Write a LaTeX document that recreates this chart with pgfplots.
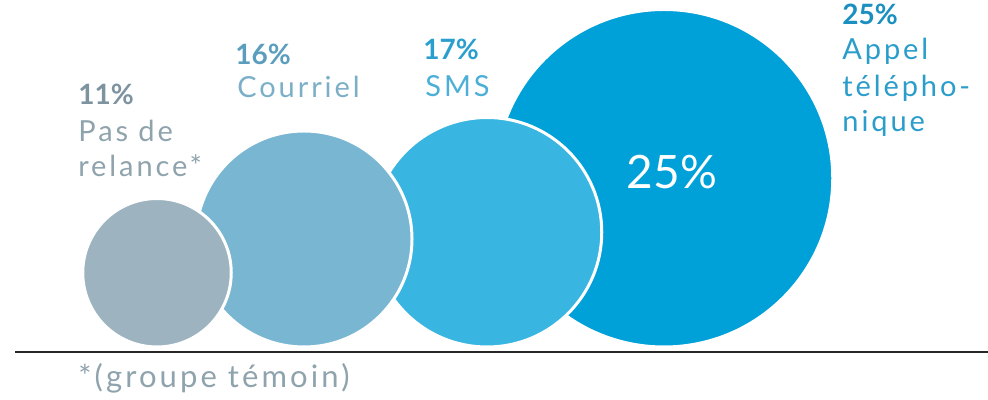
\documentclass[border=0pt]{standalone}
\usepackage{pgfplots}
\pgfplotsset{compat=1.18}
\usepackage{pgfplotstable}
\usepackage{fontspec}
\setmainfont{Lato}
\newfontfamily\labfont[LetterSpace=10]{Lato}
\definecolor{cG}{HTML}{9DB4C0}
\definecolor{cE}{HTML}{78B6D2}
\definecolor{cS}{HTML}{38B5E0}
\definecolor{cT}{HTML}{00A0D8}
\definecolor{tG}{HTML}{8FA3AD}
\definecolor{tGb}{HTML}{7D939F}
\definecolor{tE}{HTML}{7BAFC8}
\definecolor{tEb}{HTML}{5B9DBD}
\definecolor{tS}{HTML}{4BAFD8}
\definecolor{tSb}{HTML}{2A9FCF}
\definecolor{tT}{HTML}{2A9DCB}
\definecolor{tTb}{HTML}{1A8FC0}
\pgfplotstableread{
x p cls
664 25 t
487 17 s
304 16 e
157 11 g
}\circles
\begin{document}
\begin{tikzpicture}
\begin{axis}[
  scale only axis, width=494pt, height=200pt,
  xmin=0, xmax=988, ymin=0, ymax=400,
  hide axis, clip=false,
]
\addplot[draw=black!85, line width=1pt] coordinates {(15,48) (988,48)};
\addplot[scatter, only marks, mark=*, scatter src=explicit symbolic,
  scatter/classes={
    t={fill=cT, draw=white, line width=1.5pt},
    s={fill=cS, draw=white, line width=1.5pt},
    e={fill=cE, draw=white, line width=1.5pt},
    g={fill=cG, draw=white, line width=1.5pt}},
  visualization depends on={3.375*\thisrow{p} \as \msize},
  scatter/@pre marker code/.append style={/tikz/mark size=\msize},
  mark options={draw=white, line width=1.5pt}]
  table[x=x, y expr={53+6.75*\thisrow{p}}, meta=cls] {\circles};
\coordinate (c25) at (axis cs:672,228);
% labels
\tikzset{lab/.style={anchor=base west, inner sep=0pt, font=\labfont\fontsize{14.5}{17}\selectfont},
         labb/.style={anchor=base west, inner sep=0pt, font=\fontsize{14}{17}\selectfont\bfseries}}
\node[labb, text=tGb] at (axis cs:78,295) {11\%};
\node[lab, text=tG] at (axis cs:78,258) {Pas de};
\node[lab, text=tG] at (axis cs:78,223) {relance*};
\node[labb, text=tEb] at (axis cs:235,335) {16\%};
\node[lab, text=tE] at (axis cs:237,302) {Courriel};
\node[labb, text=tSb] at (axis cs:423,340) {17\%};
\node[lab, text=tS] at (axis cs:425,303) {SMS};
\node[labb, text=tTb] at (axis cs:842,375) {25\%};
\node[lab, text=tT] at (axis cs:842,340) {Appel};
\node[lab, text=tT] at (axis cs:842,303) {télépho-};
\node[lab, text=tT] at (axis cs:842,268) {nique};
\node[anchor=base west, inner sep=0pt, text=tG, font=\labfont\fontsize{15.5}{18}\selectfont] at (axis cs:78,12) {*(groupe témoin)};
\end{axis}
\node[anchor=center, inner sep=0pt, text=white, font=\fontsize{23}{26}\selectfont] at (c25) {25\%};
\pgfresetboundingbox
\path[use as bounding box] (current axis.south west) rectangle (current axis.north east);
\end{tikzpicture}
\end{document}
